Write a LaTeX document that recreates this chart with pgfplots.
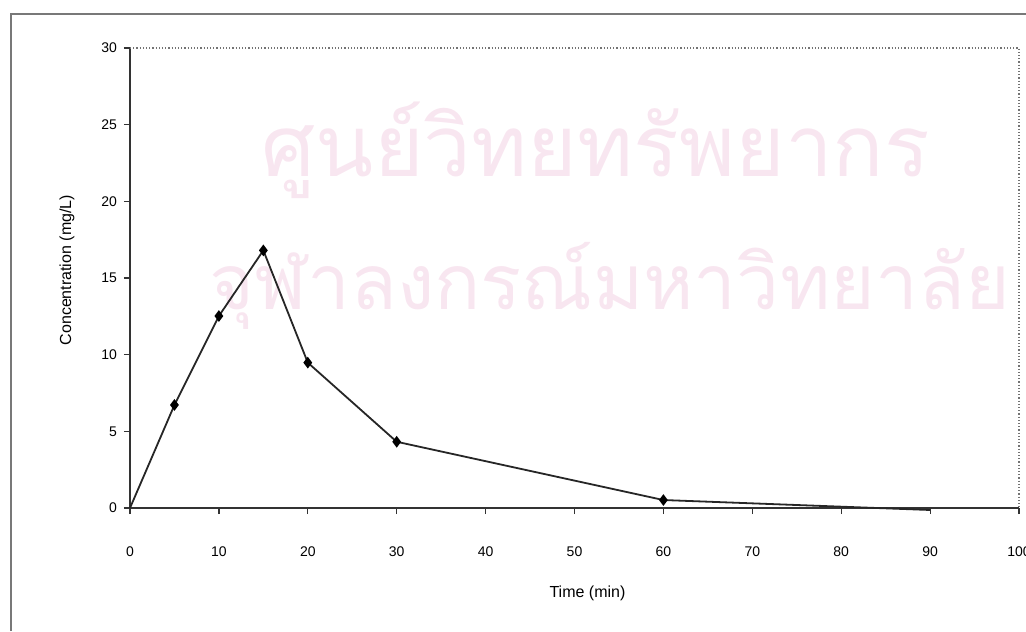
\documentclass[border=0pt]{standalone}
\usepackage{pgfplots}
\pgfplotsset{compat=1.18}
\usepackage{fontspec}
\setmainfont{Liberation Sans}
\newfontfamily\thaifont[Script=Thai]{Loma}
\definecolor{wm}{RGB}{248,230,240}
\definecolor{framegray}{RGB}{120,120,120}
\begin{document}
\begin{tikzpicture}[x=1pt,y=1pt]
\useasboundingbox (-65,-61.5) rectangle (448,254);
% watermark
\node[text=wm, inner sep=0pt] at (233,179) {\resizebox{334pt}{!}{\thaifont ศูนย์วิทยทรัพยากร}};
\node[text=wm, inner sep=0pt] at (240,111) {\resizebox{400pt}{!}{\thaifont จุฬาลงกรณ์มหาวิทยาลัย}};
% outer frame
\draw[framegray, line width=0.6pt] (-59.5,-61.5) -- (-59.5,247) -- (448,247);
\begin{axis}[
  at={(0,0)}, anchor=origin,
  scale only axis, width=444.5pt, height=230pt,
  xmin=0, xmax=100, ymin=0, ymax=30,
  xtick={0,10,...,100}, ytick={0,5,...,30},
  axis lines=left, axis line style={-, line width=0.8pt, black!80},
  tick align=outside, major tick length=3pt,
  tick style={black!80, line width=0.6pt},
  tick label style={font=\fontsize{7}{8}\selectfont},
  /pgf/number format/assume math mode=true,
  xticklabel style={yshift=-13pt},
  yticklabel style={xshift=0pt},
  xlabel={Time (min)}, ylabel={Concentration (mg/L)},
  label style={font=\fontsize{8}{9}\selectfont},
  xlabel style={at={(axis description cs:0.5146,-0.185)}, anchor=center},
  ylabel style={at={(axis description cs:-0.071,0.517)}, anchor=center},
  clip=false,
]
\draw[black!55, densely dotted, line width=0.6pt] (rel axis cs:0,1) -- (rel axis cs:1,1) -- (rel axis cs:1,0);
\addplot[black!85, line width=0.9pt, mark=diamond*, mark size=2.2pt,
  mark options={fill=black, draw=black}, mark indices={2,3,4,5,6,7}]
  coordinates {(0,0) (5,6.72) (10,12.52) (15,16.8) (20,9.48) (30,4.32) (60,0.52) (90,-0.13)};
\end{axis}
\end{tikzpicture}
\end{document}
